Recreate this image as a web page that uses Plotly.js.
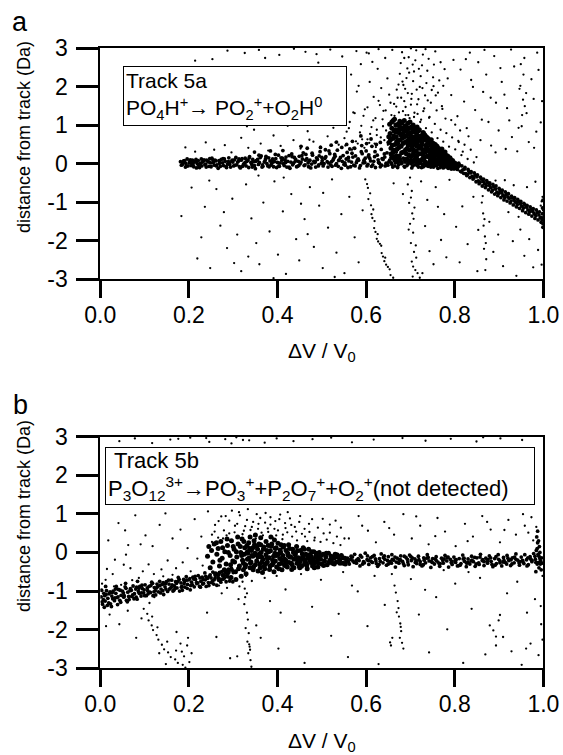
<!DOCTYPE html>
<html>
<head>
<meta charset="utf-8">
<script src="https://cdn.plot.ly/plotly-3.0.1.min.js"></script>
<style>html,body{margin:0;padding:0;background:#fff;}#chart{width:563px;height:755px;}</style>
</head>
<body>
<div id="chart"></div>
<script>
// ---------- tick labels ----------
const xTickVals = [0, 0.2, 0.4, 0.6, 0.8, 1.0];
const xTickText = ['0.0', '0.2', '0.4', '0.6', '0.8', '1.0'];
const yTickVals = [-3, -2, -1, 0, 1, 2, 3];
const yTickText = ['-3', '-2', '-1', '0', '1', '2', '3'];

// ---------- panel a data: [ΔV/V0, distance from track (Da)] ----------
const aBand = [
[0.181,0.05],[0.185,-0.02],[0.190,0.08],[0.193,0.01],[0.198,-0.06],[0.203,0.10],[0.206,0.03],[0.211,-0.08],[0.215,0.06],[0.219,0.00],
[0.224,-0.10],[0.228,0.12],[0.231,0.04],[0.236,-0.03],[0.240,0.09],[0.245,-0.07],[0.249,0.02],[0.252,0.14],[0.257,-0.04],[0.261,0.07],
[0.266,-0.12],[0.270,0.03],[0.273,0.11],[0.278,-0.05],[0.282,0.06],[0.287,-0.01],[0.290,0.15],[0.294,-0.09],[0.299,0.04],[0.303,0.10],
[0.308,-0.03],[0.312,0.07],[0.316,-0.11],[0.320,0.13],[0.325,0.01],[0.329,-0.06],[0.333,0.09],[0.337,0.18],[0.342,-0.02],[0.346,0.05],
[0.350,-0.13],[0.355,0.11],[0.359,0.03],[0.363,0.20],[0.367,-0.07],[0.372,0.08],[0.376,0.00],[0.380,0.15],[0.385,-0.04],[0.389,0.12],
[0.393,0.05],[0.398,-0.10],[0.402,0.22],[0.406,0.02],[0.410,0.09],[0.415,-0.05],[0.419,0.17],[0.423,0.06],[0.428,-0.12],[0.432,0.25],
[0.436,0.01],[0.441,0.11],[0.445,-0.07],[0.449,0.19],[0.453,0.04],[0.458,0.28],[0.462,-0.03],[0.466,0.13],[0.471,0.07],[0.475,-0.11],
[0.479,0.22],[0.484,0.03],[0.488,0.15],[0.492,-0.06],[0.496,0.31],[0.501,0.08],[0.505,0.00],[0.509,0.18],[0.514,-0.09],[0.518,0.26],
[0.522,0.05],[0.527,0.14],[0.531,-0.04],[0.535,0.35],[0.539,0.10],[0.544,-0.12],[0.548,0.21],[0.552,0.02],[0.557,0.29],[0.561,0.07],
[0.565,-0.08],[0.570,0.17],[0.574,0.40],[0.578,0.03],[0.582,0.12],[0.587,-0.05],[0.591,0.26],[0.595,0.09],[0.600,0.33],[0.604,-0.02],
[0.608,0.14],[0.613,0.45],[0.617,0.06],[0.621,-0.10],[0.625,0.22],[0.630,0.01],[0.634,0.37],[0.638,0.11],[0.643,-0.06],[0.647,0.28],
[0.651,0.04],[0.656,0.16],[0.660,-0.09],[0.664,0.08],[0.668,0.30],[0.673,-0.03],[0.677,0.12],[0.681,0.02],[0.686,-0.07],[0.690,0.10],
[0.694,-0.01],[0.699,0.06],[0.703,-0.11],[0.707,0.04],[0.711,0.09],[0.716,-0.05],[0.720,0.02],[0.724,0.07],[0.729,-0.08],[0.733,0.03],
[0.737,-0.04],[0.742,0.05],[0.746,-0.09],[0.750,0.01],[0.754,0.06],[0.759,-0.06],[0.763,0.00],[0.767,-0.10],[0.772,0.03],[0.776,-0.07],
[0.780,-0.02],[0.785,-0.12],[0.789,0.00],[0.793,-0.08],[0.797,-0.05],
[0.183,-0.04],[0.188,0.07],[0.192,-0.09],[0.196,0.12],[0.201,0.02],[0.205,-0.05],[0.208,0.09],[0.213,0.04],[0.217,-0.11],[0.221,0.08],
[0.226,0.01],[0.229,-0.06],[0.234,0.10],[0.238,-0.01],[0.243,0.05],[0.247,0.13],[0.250,-0.08],[0.255,0.03],[0.259,0.09],[0.263,-0.03],
[0.268,0.08],[0.271,-0.07],[0.276,0.02],[0.280,0.12],[0.285,-0.10],[0.289,0.05],[0.292,-0.02],[0.297,0.07],[0.301,-0.06],[0.306,0.16],
[0.310,0.04],[0.314,-0.08],[0.318,0.09],[0.323,-0.02],[0.327,0.14],[0.331,0.06],[0.335,-0.10],[0.340,0.03],[0.344,0.11],[0.348,-0.05],
[0.352,0.08],[0.357,-0.02],[0.361,0.16],[0.365,-0.09],[0.370,0.04],[0.374,0.19],[0.378,-0.06],[0.383,0.07],[0.387,0.01],[0.391,-0.08],
[0.396,0.13],[0.400,0.03],[0.404,-0.07],[0.408,0.15],[0.413,0.00],[0.417,0.10],[0.421,-0.09],[0.426,0.21],[0.430,0.04],[0.434,-0.03],
[0.438,0.16],[0.443,-0.08],[0.447,0.06],[0.451,0.00],[0.456,0.12],[0.460,-0.05],[0.464,0.24],[0.469,0.02],[0.473,0.09],[0.477,-0.01],
[0.482,0.06],[0.486,-0.09],[0.490,0.11],[0.494,0.20],[0.499,0.01],[0.503,-0.06],[0.507,0.14],[0.512,0.05],[0.516,0.33],[0.520,-0.03],
[0.525,0.09],[0.529,0.24],[0.533,0.00],[0.537,-0.07],[0.542,0.16],[0.546,0.06],[0.550,-0.02],[0.555,0.12],[0.559,-0.10],[0.563,0.38],
[0.567,0.04],[0.572,-0.04],[0.576,0.20],[0.580,0.09],[0.585,-0.11],[0.589,0.31],[0.593,0.02],[0.598,0.14],[0.602,-0.06],[0.606,0.23],
[0.610,0.07],[0.615,-0.03],[0.619,0.18],[0.623,0.50],[0.628,0.03],[0.632,-0.08],[0.636,0.13],[0.641,0.25],[0.645,0.01],[0.649,-0.04],
[0.653,0.09],[0.658,-0.02],[0.662,0.20],[0.666,0.03],[0.671,-0.10],[0.675,0.07],[0.679,0.00],[0.684,0.14],[0.688,0.04],[0.692,-0.05],
[0.697,0.08],[0.701,0.00],[0.705,-0.06],[0.709,0.12],[0.714,0.02],[0.718,-0.09],[0.722,0.05],[0.727,-0.02],[0.731,0.09],[0.735,-0.05],
[0.740,0.01],[0.744,0.08],[0.748,-0.03],[0.752,-0.09],[0.757,0.04],[0.761,-0.01],[0.765,0.07],[0.770,-0.05],[0.774,-0.11],[0.778,0.02],
[0.783,-0.06],[0.787,0.01],[0.791,-0.10],[0.795,-0.04],[0.799,-0.13],
[0.187,0.02],[0.194,-0.07],[0.202,0.06],[0.209,-0.02],[0.216,0.11],[0.222,-0.05],[0.233,0.07],[0.239,-0.09],[0.246,0.04],[0.254,0.10],
[0.262,-0.06],[0.269,0.01],[0.277,0.13],[0.284,-0.08],[0.291,0.03],[0.298,0.09],[0.304,-0.04],[0.313,0.12],[0.321,-0.07],[0.328,0.04],
[0.336,0.15],[0.343,-0.09],[0.351,0.06],[0.358,0.22],[0.366,-0.03],[0.373,0.13],[0.381,-0.08],[0.388,0.05],[0.395,0.24],[0.403,-0.06],
[0.411,0.14],[0.418,0.03],[0.426,-0.09],[0.433,0.18],[0.440,0.06],[0.448,-0.05],[0.455,0.21],[0.463,0.09],[0.470,-0.08],[0.478,0.27],
[0.485,0.05],[0.493,-0.03],[0.500,0.16],[0.508,0.36],[0.515,0.02],[0.523,-0.07],[0.530,0.19],[0.538,0.08],[0.545,0.42],[0.553,-0.04],
[0.560,0.16],[0.568,0.27],[0.575,-0.06],[0.583,0.09],[0.590,0.47],[0.597,0.03],[0.605,0.19],[0.612,-0.07],[0.620,0.31],[0.627,0.10],
[0.635,-0.04],[0.642,0.17],[0.650,0.55],[0.657,0.02],[0.665,-0.06],[0.672,0.14],[0.680,0.05],[0.687,-0.09],[0.695,0.03],[0.702,0.10],
[0.710,-0.03],[0.717,0.06],[0.725,-0.10],[0.732,0.01],[0.740,-0.07],[0.747,0.04],[0.755,-0.04],[0.762,-0.12],[0.770,0.01],[0.777,-0.09],
[0.784,-0.03],[0.792,-0.14],[0.348,0.30],[0.412,0.34],[0.467,0.40],[0.521,0.48],[0.569,0.58],[0.611,0.64],[0.588,0.72],[0.533,0.56],
[0.453,0.45],[0.384,0.33],[0.632,0.55],[0.556,0.50],[0.497,0.42],[0.601,0.52],
[0.802,-0.02],[0.806,-0.15],[0.809,0.01],[0.813,-0.20],[0.816,-0.06],[0.820,-0.25],[0.823,-0.10],[0.827,-0.31],[0.830,-0.15],[0.834,-0.36],
[0.837,-0.21],[0.841,-0.40],[0.844,-0.24],[0.848,-0.47],[0.851,-0.29],[0.855,-0.52],[0.858,-0.35],[0.862,-0.58],[0.865,-0.40],[0.869,-0.62],
[0.872,-0.44],[0.876,-0.68],[0.879,-0.50],[0.883,-0.73],[0.886,-0.54],[0.890,-0.79],[0.893,-0.58],[0.897,-0.83],[0.900,-0.64],[0.904,-0.88],
[0.907,-0.69],[0.911,-0.94],[0.914,-0.73],[0.918,-0.97],[0.921,-0.78],[0.925,-1.02],[0.928,-0.84],[0.932,-1.07],[0.935,-0.88],[0.939,-1.12],
[0.942,-0.93],[0.946,-1.16],[0.949,-0.98],[0.953,-1.22],[0.956,-1.03],[0.960,-1.27],[0.963,-1.08],[0.967,-1.31],[0.970,-1.12],[0.974,-1.36],
[0.977,-1.17],[0.981,-1.42],[0.984,-1.20],[0.988,-1.46],[0.991,-1.25],[0.995,-1.52],[0.998,-1.30],
[0.804,-0.10],[0.811,-0.04],[0.818,-0.16],[0.825,-0.26],[0.832,-0.20],[0.839,-0.33],[0.846,-0.30],[0.853,-0.45],[0.860,-0.40],[0.867,-0.52],
[0.874,-0.49],[0.881,-0.62],[0.888,-0.60],[0.895,-0.74],[0.902,-0.70],[0.909,-0.82],[0.916,-0.80],[0.923,-0.90],[0.930,-0.89],[0.937,-1.00],
[0.944,-0.98],[0.951,-1.10],[0.958,-1.07],[0.965,-1.20],[0.972,-1.18],[0.979,-1.30],[0.986,-1.27],[0.993,-1.40],[0.997,-1.45],[0.999,-1.55],
[0.808,-0.08],[0.815,-0.21],[0.822,-0.14],[0.829,-0.28],[0.836,-0.24],[0.843,-0.37],[0.850,-0.34],[0.857,-0.48],[0.864,-0.46],[0.871,-0.57],
[0.878,-0.56],[0.885,-0.69],[0.892,-0.66],[0.899,-0.77],[0.906,-0.76],[0.913,-0.88],[0.920,-0.86],[0.927,-0.97],[0.934,-0.95],[0.941,-1.06],
[0.948,-1.04],[0.955,-1.15],[0.962,-1.13],[0.969,-1.25],[0.976,-1.24],[0.983,-1.35],[0.990,-1.33],[0.996,-1.40],[0.999,-0.95],[0.998,-1.15],
[0.999,-1.65]
];

const aBlob = [
[0.652,0.55],[0.654,0.78],[0.656,0.40],[0.658,0.92],[0.660,0.65],[0.661,0.30],[0.663,0.85],[0.665,0.50],[0.667,1.00],[0.668,0.70],
[0.670,0.38],[0.672,0.88],[0.673,0.60],[0.675,0.20],[0.676,0.95],[0.678,0.75],[0.679,0.45],[0.681,1.05],[0.682,0.66],[0.684,0.30],
[0.685,0.85],[0.687,0.55],[0.688,0.10],[0.690,0.98],[0.691,0.72],[0.693,0.40],[0.694,0.90],[0.696,0.62],[0.697,0.22],[0.699,1.08],
[0.700,0.80],[0.702,0.50],[0.703,0.05],[0.705,0.88],[0.706,0.68],[0.708,0.35],[0.709,0.93],[0.711,0.58],[0.712,0.15],[0.714,0.78],
[0.715,0.45],[0.717,0.85],[0.718,0.25],[0.720,0.65],[0.721,0.02],[0.723,0.72],[0.724,0.40],[0.726,0.55],[0.727,0.12],[0.729,0.80],
[0.730,0.32],[0.732,0.62],[0.733,0.05],[0.735,0.48],[0.736,0.70],[0.738,0.20],[0.739,0.55],[0.741,0.35],[0.742,0.00],[0.744,0.60],
[0.745,0.25],[0.747,0.45],[0.748,0.08],[0.750,0.52],[0.751,0.30],[0.753,0.15],[0.754,0.42],[0.756,0.02],[0.757,0.35],[0.759,0.22],
[0.760,0.45],[0.762,0.10],[0.763,0.30],[0.765,0.00],[0.766,0.38],[0.768,0.18],[0.769,0.05],[0.771,0.28],[0.772,0.12],[0.774,-0.03],
[0.775,0.22],[0.777,0.08],[0.778,0.30],[0.780,-0.05],[0.781,0.15],[0.783,0.05],[0.784,0.20],[0.786,-0.08],[0.787,0.10],[0.789,0.00],
[0.790,0.12],[0.792,-0.10],[0.794,0.05],[0.796,-0.04],[0.798,-0.12],[0.800,0.02],[0.803,-0.08],[0.806,-0.02],
[0.691,0.25],[0.695,0.48],[0.698,0.35],[0.701,0.18],[0.704,0.42],[0.707,0.28],[0.710,0.50],[0.713,0.32],[0.716,0.10],[0.719,0.40],
[0.722,0.26],[0.725,0.48],[0.728,0.36],[0.731,0.15],[0.734,0.30],[0.737,0.42],[0.740,0.18],[0.743,0.33],[0.746,0.12],[0.749,0.38],
[0.752,0.22],[0.755,0.28],[0.758,0.10],[0.761,0.25],[0.764,0.15],[0.767,0.24],[0.770,0.05],[0.773,0.16],[0.776,0.10],[0.779,0.02],
[0.662,0.72],[0.666,0.88],[0.671,0.52],[0.674,0.80],[0.677,0.62],[0.680,0.92],[0.683,0.78],[0.686,0.70],[0.689,0.84],[0.692,0.58],
[0.695,0.78],[0.698,0.65],[0.701,0.72],[0.704,0.60],[0.707,0.82],[0.710,0.70],[0.713,0.64],[0.716,0.58],[0.719,0.70],[0.722,0.60],
[0.658,1.08],[0.664,1.15],[0.672,1.02],[0.668,0.20],[0.686,1.12],
[0.651,0.70],[0.655,0.62],[0.659,0.48],[0.663,0.35],[0.667,0.82],[0.669,0.58],[0.674,0.42],[0.677,0.90],[0.680,0.28],[0.683,0.52],
[0.687,0.95],[0.689,0.36],[0.692,0.12],[0.696,0.92],[0.699,0.55],[0.702,0.95],[0.705,0.22],[0.708,0.60],[0.711,0.84],[0.714,0.20],
[0.717,0.48],[0.720,0.88],[0.723,0.08],[0.726,0.68],[0.729,0.22],[0.732,0.75],[0.735,0.38],[0.738,0.60],[0.741,0.52],[0.744,0.15],
[0.747,0.62],[0.750,0.40],[0.753,0.05],[0.756,0.50],[0.759,0.32],[0.762,0.40],[0.765,0.20],[0.768,0.30],[0.771,0.38],[0.774,0.25],
[0.777,0.18],[0.780,0.22],[0.783,0.12],[0.786,0.10],[0.789,0.15],[0.792,0.02],[0.795,0.08],[0.660,0.15],[0.665,0.10],[0.671,0.05],
[0.656,0.25],[0.653,1.02],[0.661,1.12],[0.676,1.10],[0.694,1.05],[0.706,1.00],[0.715,0.95],[0.728,0.80],[0.740,0.65],[0.752,0.52]
];

const aScatter = [
[0.192,0.42],[0.214,0.31],[0.238,0.55],[0.257,0.36],[0.281,0.48],[0.296,0.29],[0.318,0.67],[0.334,0.41],[0.347,0.88],[0.362,0.52],
[0.379,0.34],[0.391,0.73],[0.407,0.46],[0.423,0.98],[0.436,0.61],[0.452,0.39],[0.468,0.84],[0.481,0.57],[0.497,0.44],[0.513,0.71],
[0.526,0.93],[0.538,0.49],[0.551,0.66],[0.563,1.08],[0.577,0.58],[0.586,0.81],[0.594,1.24],[0.603,0.63],[0.612,0.95],[0.624,0.74],
[0.637,1.15],[0.645,0.86],[0.331,0.97],[0.443,1.12],[0.505,1.02],[0.472,0.62],[0.531,0.55],[0.556,0.83],[0.571,0.41],[0.619,0.52],
[0.214,2.67],[0.253,2.71],[0.287,2.93],[0.326,2.87],[0.358,2.95],[0.404,2.82],[0.437,2.98],[0.463,2.90],[0.488,2.84],[0.519,2.96],
[0.546,2.78],[0.578,2.92],[0.606,2.86],[0.628,2.97],[0.372,2.74],[0.492,2.62],
[0.553,1.62],[0.566,2.31],[0.579,1.87],[0.588,2.58],[0.597,1.41],[0.608,2.12],[0.617,1.73],[0.626,2.46],[0.621,1.18],[0.634,1.96],
[0.643,2.74],[0.639,1.37],[0.601,2.88],[0.648,2.21],[0.655,1.58],[0.583,2.02],[0.614,2.64],[0.631,1.52],[0.659,2.95],[0.571,1.33],
[0.664,1.24],[0.668,1.48],[0.671,1.71],[0.673,2.05],[0.676,2.33],[0.678,2.61],[0.681,2.89],[0.683,1.36],[0.686,1.62],[0.688,1.94],
[0.691,2.22],[0.693,2.47],[0.696,2.76],[0.698,1.18],[0.701,1.53],[0.703,1.81],[0.706,2.14],[0.708,2.39],[0.711,2.68],[0.713,2.94],
[0.716,1.29],[0.718,1.67],[0.721,1.99],[0.723,2.27],[0.726,2.55],[0.728,2.83],[0.731,1.43],[0.733,1.77],[0.736,2.09],[0.738,2.41],
[0.741,2.72],[0.743,1.21],[0.746,1.58],[0.748,1.91],[0.751,2.24],[0.753,2.57],[0.756,2.91],[0.759,1.38],[0.762,1.84],[0.765,2.16],
[0.768,2.63],[0.771,1.49],[0.774,2.02],[0.777,2.45],[0.779,1.17],[0.682,2.13],[0.694,1.83],[0.705,2.57],[0.714,1.92],[0.724,1.14],
[0.734,2.97],[0.697,2.36],[0.709,1.32],[0.719,2.46],[0.686,2.74],[0.727,1.96],[0.739,1.64],[0.752,2.01],[0.701,2.99],[0.689,1.26],
[0.784,2.21],[0.792,1.78],[0.797,2.69],[0.806,1.23],[0.813,2.44],[0.821,1.61],[0.827,0.92],[0.834,2.88],[0.841,1.99],[0.846,1.39],
[0.853,2.63],[0.858,0.61],[0.864,1.86],[0.871,2.31],[0.876,1.08],[0.882,0.47],[0.889,2.79],[0.893,1.58],[0.899,0.86],[0.906,2.12],
[0.912,1.79],[0.918,1.44],[0.923,1.12],[0.929,0.69],[0.934,2.52],[0.941,0.32],[0.946,1.94],[0.951,0.97],[0.957,2.74],[0.962,1.31],
[0.967,0.56],[0.973,2.19],[0.978,1.68],[0.984,0.83],[0.989,2.43],[0.994,1.07],[0.818,0.31],[0.849,0.17],[0.809,0.56],[0.801,1.01],
[0.867,2.95],[0.927,2.96],[0.954,1.66],[0.948,2.02],[0.952,1.26],[0.944,0.93],[0.958,1.49],[0.955,2.31],[0.949,2.58],[0.961,1.83],
[0.881,1.71],[0.903,2.48],[0.837,2.17],[0.861,1.14],[0.915,0.38],[0.986,2.88],[0.997,1.62],[0.979,0.41],[0.825,2.71],[0.892,0.29],
[0.553,0.47],[0.561,0.92],[0.568,0.36],[0.574,1.31],[0.581,0.52],[0.589,0.98],[0.596,0.41],[0.603,1.46],[0.609,0.77],[0.616,1.12],
[0.622,0.43],[0.628,1.63],[0.633,0.68],[0.638,0.97],[0.644,1.38],[0.649,0.49],[0.652,1.79],[0.657,1.26],[0.663,1.55],[0.669,1.92],
[0.674,1.33],[0.679,1.71],[0.684,2.04],[0.689,1.47],[0.695,1.26],[0.702,1.68],[0.708,1.21],[0.715,1.54],[0.722,1.08],[0.729,1.36],
[0.735,0.92],[0.742,1.19],[0.748,0.81],[0.755,1.03],[0.761,0.66],[0.768,0.88],[0.774,0.57],[0.781,0.79],[0.787,0.44],[0.794,0.68],
[0.801,0.37],[0.808,0.59],[0.815,0.22],[0.822,0.49],[0.829,0.12],[0.836,0.36],[0.843,0.03],[0.792,1.13],[0.772,1.42],[0.757,1.77],
[0.812,0.86],[0.831,0.71],[0.591,0.63],[0.607,0.54],[0.624,0.88],[0.641,0.61],
[0.183,-1.36],[0.206,-0.62],[0.219,-2.46],[0.236,-1.12],[0.248,-2.71],[0.262,-0.66],[0.271,-1.61],[0.286,-2.19],[0.298,-0.91],[0.309,-1.84],
[0.318,-2.79],[0.329,-0.54],[0.341,-1.42],[0.352,-2.06],[0.359,-2.61],[0.368,-1.01],[0.382,-1.76],[0.393,-0.46],[0.401,-2.36],[0.412,-1.24],
[0.419,-2.86],[0.431,-0.79],[0.442,-1.96],[0.449,-2.51],[0.461,-1.44],[0.473,-0.61],[0.482,-2.16],[0.494,-1.09],[0.502,-2.71],[0.514,-1.66],
[0.523,-0.41],[0.533,-2.31],[0.544,-1.31],[0.551,-2.84],[0.562,-0.86],[0.574,-1.91],[0.583,-2.56],[0.592,-1.21],[0.334,-2.41],[0.279,-1.26],
[0.228,-1.91],[0.453,-1.04],[0.503,-0.76],[0.414,-0.36],[0.357,-0.31],[0.246,-0.44],[0.302,-2.58],[0.391,-2.97],[0.468,-1.83],[0.529,-2.94],
[0.598,-0.41],[0.604,-0.63],[0.605,-0.92],[0.611,-1.08],[0.612,-1.31],[0.619,-1.49],[0.618,-1.67],[0.626,-1.83],[0.627,-2.02],[0.634,-2.13],
[0.635,-2.32],[0.643,-2.44],[0.645,-2.62],[0.653,-2.74],[0.655,-2.89],[0.609,-0.77],[0.616,-1.19],[0.621,-1.77],[0.631,-2.08],[0.638,-2.41],
[0.649,-2.68],[0.661,-2.96],[0.602,-0.53],[0.614,-1.41],[0.624,-1.95],[0.641,-2.53],
[0.699,-0.36],[0.703,-0.71],[0.697,-1.02],[0.704,-1.29],[0.699,-1.56],[0.706,-1.79],[0.701,-2.06],[0.708,-2.29],[0.703,-2.54],[0.711,-2.76],
[0.705,-2.93],[0.709,-1.14],[0.696,-1.71],[0.713,-2.44],[0.694,-0.54],[0.716,-2.84],[0.721,-2.96],[0.701,-0.88],[0.707,-1.43],[0.712,-2.12],
[0.706,-2.67],
[0.662,-0.51],[0.683,-0.79],[0.724,-0.46],[0.738,-0.94],[0.757,-0.61],[0.776,-1.31],[0.733,-1.62],[0.769,-1.98],[0.752,-2.61],[0.788,-0.42],
[0.743,-2.27],[0.762,-1.12],[0.781,-2.43],[0.727,-2.84],
[0.861,-1.01],[0.864,-1.29],[0.865,-1.61],[0.868,-1.89],[0.866,-2.21],[0.871,-2.48],[0.869,-2.76],[0.863,-0.84],[0.867,-1.44],[0.870,-2.06],
[0.817,-1.11],[0.829,-2.09],[0.842,-0.86],[0.851,-2.79],[0.878,-1.51],[0.887,-2.29],[0.898,-1.84],[0.909,-2.66],[0.921,-1.26],[0.931,-2.01],
[0.939,-2.91],[0.948,-1.71],[0.957,-2.39],[0.968,-1.96],[0.977,-2.69],[0.988,-2.24],[0.994,-1.09],[0.998,-0.86],[0.811,-2.56],[0.803,-1.64],
[0.963,-0.61],[0.933,-0.56],[0.913,-0.43],[0.982,-0.47],[0.996,-0.98],[0.999,-1.21],[0.996,-2.62],[0.853,-1.72],[0.892,-0.44],[0.944,-1.38]
];

// ---------- panel b data ----------
const bBand = [
[0.002,-1.15],[0.005,-1.34],[0.008,-1.06],[0.011,-1.26],[0.014,-0.99],[0.017,-1.19],[0.020,-1.07],[0.023,-1.33],[0.026,-1.13],[0.029,-1.00],
[0.032,-1.25],[0.035,-1.06],[0.038,-1.17],[0.041,-0.96],[0.044,-1.24],[0.047,-1.11],[0.050,-1.00],[0.053,-1.16],[0.056,-0.89],[0.059,-1.24],
[0.062,-1.03],[0.065,-1.22],[0.068,-0.94],[0.071,-1.14],[0.074,-0.87],[0.077,-1.07],[0.080,-0.95],[0.083,-1.21],[0.086,-1.01],[0.089,-0.88],
[0.092,-1.13],[0.095,-0.94],[0.098,-1.05],[0.101,-0.84],[0.104,-1.12],[0.107,-0.99],[0.110,-0.88],[0.113,-1.04],[0.116,-0.77],[0.119,-1.12],
[0.122,-0.91],[0.125,-1.10],[0.128,-0.82],[0.131,-1.02],[0.134,-0.75],[0.137,-0.95],[0.140,-0.83],[0.143,-1.09],[0.146,-0.89],[0.149,-0.76],
[0.152,-1.01],[0.155,-0.82],[0.158,-0.93],[0.161,-0.72],[0.164,-1.00],[0.167,-0.87],[0.170,-0.76],[0.173,-0.92],[0.176,-0.65],[0.179,-1.00],
[0.182,-0.79],[0.185,-0.98],[0.188,-0.70],[0.191,-0.90],[0.194,-0.63],[0.197,-0.83],[0.200,-0.71],[0.203,-0.97],[0.206,-0.77],[0.209,-0.64],
[0.212,-0.89],[0.215,-0.70],[0.218,-0.81],[0.221,-0.60],[0.224,-0.88],[0.227,-0.75],[0.230,-0.64],[0.233,-0.80],[0.236,-0.53],[0.239,-0.88],
[0.242,-0.67],[0.245,-0.86],[0.248,-0.58],[0.251,-0.78],[0.254,-0.51],[0.257,-0.71],[0.260,-0.59],[0.263,-0.85],[0.266,-0.65],[0.269,-0.52],
[0.272,-0.77],[0.275,-0.58],[0.278,-0.69],[0.281,-0.48],[0.284,-0.76],[0.287,-0.63],[0.290,-0.52],[0.293,-0.68],[0.296,-0.41],[0.299,-0.76],
[0.004,-1.28],[0.010,-1.12],[0.016,-1.37],[0.022,-1.02],[0.028,-1.20],[0.034,-0.95],[0.040,-1.15],[0.046,-1.29],[0.052,-1.05],[0.058,-0.93],
[0.064,-1.14],[0.070,-0.98],[0.076,-1.20],[0.082,-0.90],[0.088,-1.06],[0.094,-0.85],[0.100,-1.12],[0.106,-0.92],[0.112,-1.03],[0.118,-0.80],
[0.124,-0.99],[0.130,-0.88],[0.136,-1.05],[0.142,-0.78],[0.148,-0.95],[0.154,-0.72],[0.160,-0.90],[0.166,-0.98],[0.172,-0.80],[0.178,-0.70],
[0.184,-0.88],[0.190,-0.76],[0.196,-0.93],[0.202,-0.68],[0.208,-0.84],[0.214,-0.62],[0.220,-0.79],[0.226,-0.90],[0.232,-0.70],[0.238,-0.62],
[0.244,-0.78],[0.250,-0.66],[0.256,-0.82],[0.262,-0.56],[0.268,-0.72],[0.274,-0.50],[0.280,-0.66],[0.286,-0.58],[0.292,-0.74],[0.298,-0.46],
[0.007,-1.22],[0.013,-1.09],[0.019,-1.31],[0.027,-1.04],[0.033,-1.18],[0.039,-1.35],[0.045,-0.98],[0.054,-1.12],[0.061,-1.28],[0.067,-0.99],
[0.073,-1.10],[0.081,-1.16],[0.087,-0.93],[0.093,-1.05],[0.099,-0.97],[0.108,-1.07],[0.114,-0.86],[0.121,-1.02],[0.127,-0.92],[0.135,-0.85],
[0.141,-0.99],[0.147,-0.81],[0.156,-0.95],[0.162,-0.84],[0.169,-0.93],[0.175,-0.75],[0.183,-0.90],[0.189,-0.81],[0.195,-0.72],[0.204,-0.86],
[0.211,-0.69],[0.217,-0.78],[0.225,-0.66],[0.231,-0.82],[0.237,-0.71],[0.246,-0.62],[0.253,-0.74],[0.259,-0.66],[0.267,-0.58],[0.273,-0.70],
[0.279,-0.61],[0.288,-0.55],[0.294,-0.64],[0.300,-0.52],[0.003,-0.98],[0.009,-1.42],[0.025,-1.40],[0.036,-0.88],[0.057,-0.80],[0.084,-0.75],
[0.012,-0.88],
[0.558,-0.15],[0.562,-0.30],[0.566,-0.10],[0.570,-0.22],[0.574,-0.05],[0.578,-0.28],[0.582,-0.16],[0.586,-0.35],[0.590,-0.12],[0.594,-0.24],
[0.598,-0.02],[0.602,-0.19],[0.606,-0.31],[0.610,-0.14],[0.614,-0.26],[0.618,-0.08],[0.622,-0.22],[0.626,-0.36],[0.630,-0.16],[0.634,-0.04],
[0.638,-0.27],[0.642,-0.18],[0.646,-0.33],[0.650,-0.11],[0.654,-0.24],[0.658,-0.06],[0.662,-0.20],[0.666,-0.38],[0.670,-0.15],[0.674,-0.28],
[0.678,-0.09],[0.682,-0.23],[0.686,-0.34],[0.690,-0.13],[0.694,-0.25],[0.698,-0.07],[0.702,-0.21],[0.706,-0.37],[0.710,-0.17],[0.714,-0.29],
[0.718,-0.10],[0.722,-0.24],[0.726,-0.35],[0.730,-0.14],[0.734,-0.27],[0.738,-0.06],[0.742,-0.22],[0.746,-0.39],[0.750,-0.16],[0.754,-0.30],
[0.758,-0.11],[0.762,-0.25],[0.766,-0.36],[0.770,-0.15],[0.774,-0.28],[0.778,-0.08],[0.782,-0.22],[0.786,-0.38],[0.790,-0.18],[0.794,-0.31],
[0.798,-0.12],[0.802,-0.26],[0.806,-0.35],[0.810,-0.16],[0.814,-0.29],[0.818,-0.07],[0.822,-0.23],[0.826,-0.37],[0.830,-0.17],[0.834,-0.30],
[0.838,-0.10],[0.842,-0.24],[0.846,-0.36],[0.850,-0.14],[0.854,-0.27],[0.858,-0.05],[0.862,-0.21],[0.866,-0.34],[0.870,-0.15],[0.874,-0.28],
[0.878,-0.09],[0.882,-0.23],[0.886,-0.37],[0.890,-0.16],[0.894,-0.29],[0.898,-0.06],[0.902,-0.22],[0.906,-0.35],[0.910,-0.13],[0.914,-0.26],
[0.918,-0.08],[0.922,-0.21],[0.926,-0.34],[0.930,-0.14],[0.934,-0.27],[0.938,-0.04],[0.942,-0.20],[0.946,-0.33],[0.950,-0.12],[0.954,-0.25],
[0.958,-0.06],[0.962,-0.19],[0.966,-0.32],[0.970,-0.11],[0.974,-0.24],[0.978,-0.03],[0.982,-0.18],[0.986,-0.30],[0.990,-0.10],[0.994,-0.22],
[0.560,-0.24],[0.569,-0.12],[0.578,-0.20],[0.587,-0.08],[0.596,-0.27],[0.605,-0.21],[0.614,-0.11],[0.623,-0.29],[0.632,-0.23],[0.641,-0.09],
[0.650,-0.30],[0.659,-0.18],[0.668,-0.25],[0.677,-0.19],[0.686,-0.10],[0.695,-0.32],[0.704,-0.14],[0.713,-0.22],[0.722,-0.31],[0.731,-0.20],
[0.740,-0.13],[0.749,-0.26],[0.758,-0.21],[0.767,-0.29],[0.776,-0.17],[0.785,-0.12],[0.794,-0.24],[0.803,-0.19],[0.812,-0.33],[0.821,-0.15],
[0.830,-0.25],[0.839,-0.20],[0.848,-0.30],[0.857,-0.12],[0.866,-0.24],[0.875,-0.19],[0.884,-0.31],[0.893,-0.11],[0.902,-0.27],[0.911,-0.21],
[0.920,-0.15],[0.929,-0.30],[0.938,-0.18],[0.947,-0.24],[0.956,-0.29],[0.965,-0.14],[0.974,-0.20],[0.983,-0.26],[0.992,-0.16],[0.997,-0.28],
[0.565,-0.18],[0.573,-0.26],[0.584,-0.21],[0.592,-0.30],[0.603,-0.09],[0.611,-0.23],[0.621,-0.17],[0.629,-0.31],[0.639,-0.13],[0.648,-0.21],
[0.657,-0.28],[0.665,-0.12],[0.675,-0.20],[0.684,-0.29],[0.693,-0.18],[0.701,-0.11],[0.711,-0.26],[0.719,-0.19],[0.729,-0.32],[0.737,-0.15],
[0.747,-0.23],[0.756,-0.17],[0.765,-0.30],[0.773,-0.21],[0.783,-0.13],[0.792,-0.26],[0.801,-0.20],[0.809,-0.34],[0.819,-0.17],[0.827,-0.28],
[0.837,-0.22],[0.845,-0.13],[0.855,-0.31],[0.863,-0.19],[0.873,-0.23],[0.881,-0.14],[0.891,-0.33],[0.899,-0.18],[0.909,-0.25],[0.917,-0.30],
[0.927,-0.19],[0.935,-0.12],[0.945,-0.27],[0.953,-0.21],[0.963,-0.35],[0.971,-0.17],[0.981,-0.10],[0.989,-0.26],[0.996,-0.14],[0.984,0.05],
[0.983,-0.50],[0.987,0.55],
[0.985,0.40],[0.987,0.25],[0.986,0.10],[0.988,-0.05],[0.989,0.30],[0.990,-0.40],[0.991,0.15],[0.993,-0.30],[0.992,0.00],[0.995,-0.45]
];

const bBlob = [
[0.242,-0.10],[0.245,0.15],[0.248,-0.40],[0.251,0.05],[0.254,-0.25],[0.257,0.22],[0.260,-0.55],[0.263,-0.05],[0.266,0.10],[0.269,-0.35],
[0.272,0.28],[0.275,-0.15],[0.278,-0.60],[0.281,0.02],[0.284,-0.30],[0.287,0.18],[0.290,-0.45],[0.293,-0.08],[0.296,0.30],[0.299,-0.22],
[0.302,0.08],[0.305,-0.50],[0.308,-0.12],[0.311,0.22],[0.314,-0.35],[0.317,0.00],[0.320,0.35],[0.323,-0.28],[0.326,0.12],[0.329,-0.55],
[0.332,-0.18],[0.335,0.25],[0.338,-0.40],[0.341,0.05],[0.344,-0.10],[0.347,0.30],[0.350,-0.32],[0.353,0.15],[0.356,-0.48],[0.359,-0.05],
[0.362,0.20],[0.365,-0.25],[0.368,0.08],[0.371,-0.42],[0.374,0.28],[0.377,-0.15],[0.380,0.02],[0.383,-0.35],[0.386,0.16],[0.389,-0.20],
[0.392,-0.50],[0.395,0.10],[0.398,-0.08],[0.401,0.24],[0.404,-0.30],[0.407,0.00],[0.410,-0.45],[0.413,0.14],[0.416,-0.18],[0.419,0.05],
[0.422,-0.38],[0.425,0.20],[0.428,-0.12],[0.431,-0.28],[0.434,0.08],[0.437,-0.40],[0.440,-0.02],[0.443,0.15],[0.446,-0.22],[0.449,-0.35],
[0.452,0.05],[0.455,-0.15],[0.458,0.12],[0.461,-0.30],[0.464,-0.05],[0.467,-0.42],[0.470,0.08],[0.473,-0.20],[0.476,-0.10],[0.479,-0.35],
[0.482,0.02],[0.485,-0.25],[0.488,-0.08],[0.491,-0.38],[0.494,0.00],[0.497,-0.18],[0.500,-0.30],[0.503,-0.05],[0.506,-0.22],[0.509,-0.12],
[0.512,-0.32],[0.515,-0.02],[0.518,-0.20],[0.521,-0.10],[0.524,-0.28],[0.527,-0.15],[0.530,-0.05],[0.533,-0.25],[0.536,-0.12],[0.540,-0.20],
[0.544,-0.08],[0.548,-0.28],[0.552,-0.15],[0.556,-0.22],
[0.321,-0.20],[0.325,-0.05],[0.328,-0.32],[0.332,0.02],[0.335,-0.15],[0.339,-0.28],[0.342,-0.08],[0.346,-0.38],[0.349,-0.02],[0.353,-0.22],
[0.356,-0.12],[0.360,-0.30],[0.363,0.00],[0.367,-0.18],[0.370,-0.35],[0.374,-0.06],[0.377,-0.25],[0.381,-0.14],[0.384,0.04],[0.388,-0.32],
[0.391,-0.10],[0.395,-0.22],[0.398,-0.38],[0.402,-0.04],[0.405,-0.16],[0.409,-0.28],[0.412,-0.08],[0.416,-0.34],[0.419,-0.20],[0.423,-0.02],
[0.426,-0.26],[0.430,-0.12],[0.433,-0.32],[0.437,-0.18],[0.440,-0.06],[0.444,-0.28],[0.447,-0.14],[0.451,-0.24],[0.454,-0.36],[0.458,-0.10],
[0.461,-0.20],[0.465,-0.28],[0.468,-0.14],[0.472,-0.06],[0.475,-0.26],[0.479,-0.18],[0.482,-0.30],[0.486,-0.12],[0.489,-0.22],[0.493,-0.15],
[0.323,-0.45],[0.331,0.18],[0.344,0.12],[0.358,0.22],[0.366,-0.52],[0.379,0.18],[0.393,0.32],[0.408,0.20],[0.385,0.40],[0.362,0.38],
[0.350,0.45],[0.338,0.40],[0.310,0.40],[0.300,0.15],[0.286,0.35],[0.318,-0.62],[0.306,-0.70],[0.295,-0.65],[0.280,-0.45],[0.268,-0.70],
[0.303,-0.25],[0.307,0.02],[0.312,-0.42],[0.316,0.15],[0.319,-0.08],[0.324,0.28],[0.327,-0.38],[0.333,-0.02],[0.337,0.10],[0.340,-0.25],
[0.345,-0.45],[0.348,0.20],[0.352,-0.06],[0.355,0.08],[0.361,-0.40],[0.364,-0.12],[0.369,0.14],[0.373,-0.30],[0.376,0.05],[0.382,-0.44],
[0.387,0.22],[0.390,-0.28],[0.394,-0.02],[0.397,0.12],[0.403,-0.42],[0.406,0.06],[0.411,-0.20],[0.415,0.18],[0.418,-0.30],[0.424,-0.08],
[0.427,0.10],[0.432,-0.44],[0.436,0.00],[0.441,-0.16],[0.445,0.04],[0.450,-0.40],[0.456,-0.04],[0.460,0.08],[0.466,-0.34],[0.471,-0.16],
[0.477,0.02],[0.483,-0.40],[0.487,-0.02],[0.492,-0.28],[0.498,-0.08],[0.504,-0.34],[0.510,-0.02],[0.516,-0.26],[0.522,-0.18],[0.528,-0.30],
[0.534,-0.06],[0.541,-0.28],[0.547,-0.14],[0.553,-0.30],[0.262,0.25],[0.270,-0.20],[0.276,0.12],[0.283,-0.50],[0.289,0.00],[0.294,-0.32]
];

const bScatter = [
[0.043,2.88],[0.078,2.95],[0.117,2.83],[0.158,2.92],[0.203,2.97],[0.246,2.86],[0.282,2.93],[0.307,2.98],[0.336,2.90],[0.371,2.84],
[0.398,2.95],[0.436,2.88],[0.479,2.93],[0.521,2.97],[0.568,2.85],[0.617,2.92],[0.682,2.96],[0.734,2.89],[0.791,2.94],[0.849,2.87],
[0.903,2.95],[0.952,2.91],[0.864,2.98],[0.296,2.82],[0.239,2.96],[0.176,2.94],[0.322,2.91],
[0.018,0.31],[0.041,0.76],[0.063,0.19],[0.079,0.96],[0.102,0.44],[0.118,0.16],[0.134,0.71],[0.147,1.01],[0.163,0.36],[0.181,0.59],
[0.197,0.11],[0.213,0.86],[0.228,0.41],[0.243,1.06],[0.258,0.54],[0.267,0.81],[0.283,0.94],[0.291,0.49],[0.304,0.69],[0.313,1.04],
[0.324,0.56],[0.331,0.84],[0.342,0.66],[0.353,0.99],[0.364,0.51],[0.372,0.77],[0.384,0.91],[0.393,0.61],[0.404,0.86],[0.412,0.46],
[0.423,1.04],[0.431,0.71],[0.442,0.54],[0.451,0.94],[0.462,0.41],[0.471,0.74],[0.483,0.31],[0.502,0.87],[0.518,0.51],[0.543,0.64],
[0.561,0.36],[0.583,0.94],[0.604,0.56],[0.622,0.26],[0.641,0.79],[0.663,0.46],[0.684,0.99],[0.703,0.36],[0.722,0.69],[0.741,0.21],
[0.761,0.89],[0.778,0.54],[0.802,0.16],[0.823,0.74],[0.841,0.41],[0.862,0.94],[0.881,0.59],[0.902,0.26],[0.921,0.84],[0.938,0.46],
[0.958,0.69],[0.977,0.31],[0.973,0.91],[0.966,0.51],[0.954,0.99],[0.347,0.43],[0.378,0.62],[0.318,0.37],[0.357,0.74],[0.397,0.44],
[0.418,0.63],[0.277,0.36],[0.252,0.27],[0.056,0.57],[0.091,0.21],[0.713,0.93],[0.756,0.42],[0.829,0.29],[0.873,0.79],[0.912,0.58],
[0.984,0.66],[0.531,0.82],[0.591,0.69],[0.652,0.63],
[0.252,0.46],[0.259,0.71],[0.266,0.38],[0.273,0.93],[0.279,0.57],[0.285,0.44],[0.291,0.82],[0.297,1.08],[0.303,0.52],[0.309,0.74],
[0.315,0.96],[0.321,0.47],[0.327,0.68],[0.333,1.12],[0.339,0.58],[0.345,0.79],[0.351,0.36],[0.356,0.61],[0.361,0.89],[0.367,0.44],
[0.373,1.02],[0.379,0.53],[0.384,0.72],[0.389,0.38],[0.395,0.81],[0.401,0.57],[0.406,0.98],[0.411,0.34],[0.417,0.76],[0.422,0.52],
[0.428,0.88],[0.433,0.41],[0.439,0.66],[0.444,0.31],[0.449,0.79],[0.455,0.48],[0.461,0.61],[0.467,0.29],[0.472,0.53],[0.478,0.86],
[0.484,0.38],[0.491,0.64],[0.497,0.27],[0.504,0.49],[0.511,0.33],[0.518,0.72],[0.526,0.24],[0.534,0.41],[0.542,0.19],[0.551,0.36],
[0.268,-0.86],[0.286,-0.92],[0.314,-0.88],[0.342,-0.74],[0.371,-0.66],[0.398,-0.61],
[0.012,-0.71],[0.028,-0.56],[0.047,-0.84],[0.068,-0.41],[0.087,-0.66],[0.109,-0.31],[0.121,-0.56],[0.138,-0.44],[0.152,-0.21],[0.171,-0.41],
[0.186,-0.26],[0.204,-0.49],[0.219,-0.16],[0.231,-0.34],[0.021,-1.61],[0.043,-1.86],[0.062,-1.51],[0.081,-2.21],[0.093,-1.71],[0.033,-0.19],
[0.004,-0.81],[0.058,-0.06],[0.013,-1.91],[0.072,-0.72],[0.031,-0.88],[0.096,-0.49],[0.142,-0.62],[0.163,-0.58],[0.015,-0.43],[0.053,-0.32],
[0.098,-1.46],[0.106,-1.59],[0.109,-1.76],[0.116,-1.89],[0.119,-2.01],[0.127,-2.14],[0.131,-2.26],[0.139,-2.39],[0.144,-2.51],[0.153,-2.59],
[0.159,-2.71],[0.169,-2.77],[0.175,-2.86],[0.186,-2.91],[0.192,-2.98],[0.117,-1.66],[0.129,-1.94],[0.151,-2.31],[0.171,-2.54],[0.189,-2.69],
[0.196,-2.41],[0.181,-2.36],[0.201,-2.84],[0.206,-2.61],[0.122,-1.16],[0.133,-2.61],[0.148,-2.89],[0.172,-2.06],[0.198,-2.21],[0.184,-2.57],
[0.111,-1.31],
[0.321,-0.76],[0.326,-0.94],[0.327,-1.16],[0.325,-1.34],[0.331,-1.56],[0.333,-1.74],[0.328,-1.96],[0.335,-2.09],[0.332,-2.31],[0.337,-2.44],
[0.334,-2.61],[0.339,-2.79],[0.341,-2.96],[0.312,-1.21],[0.309,-2.69],[0.352,-1.89],[0.336,-2.38],[0.329,-0.61],[0.331,-1.06],[0.338,-2.52],
[0.664,-0.86],[0.667,-1.04],[0.671,-1.26],[0.673,-1.44],[0.674,-1.66],[0.677,-1.84],[0.679,-2.04],[0.676,-2.21],[0.681,-2.34],[0.684,-2.49],
[0.659,-2.21],[0.656,-2.41],[0.669,-1.55],[0.678,-1.93],[0.654,-2.33],
[0.241,-1.56],[0.262,-2.19],[0.274,-1.06],[0.293,-2.74],[0.383,-1.26],[0.402,-2.49],[0.418,-0.96],[0.439,-1.79],[0.461,-2.86],[0.478,-1.41],
[0.498,-0.71],[0.521,-2.16],[0.538,-1.59],[0.559,-2.71],[0.581,-1.01],[0.603,-1.91],[0.619,-0.61],[0.628,-2.89],[0.642,-1.36],[0.701,-0.69],
[0.719,-1.61],[0.742,-2.59],[0.758,-1.16],[0.783,-1.99],[0.801,-0.81],[0.819,-2.86],[0.838,-1.46],[0.857,-0.66],[0.879,-1.89],[0.893,-2.41],
[0.899,-1.76],[0.909,-2.19],[0.918,-1.06],[0.928,-2.56],[0.941,-0.76],[0.951,-2.91],[0.963,-1.56],[0.971,-2.36],[0.981,-1.21],[0.989,-2.66],
[0.995,-1.86],[0.998,-2.26],[0.453,-0.56],[0.548,-0.51],[0.362,-2.21],[0.407,-1.56],[0.568,-0.86],[0.658,-0.56],[0.831,-0.51],[0.869,-2.64],
[0.893,-2.18],[0.902,-1.62],[0.887,-2.02],[0.961,-2.49],[0.998,-0.61],[0.994,-1.39],[0.733,-0.97],[0.775,-0.46]
];

// ---------- texts ----------
const panelLetters = ['a', 'b'];
const boxLabelA = 'Track 5a<br>PO<sub>4</sub>H<sup>+</sup>\u2192 PO<sub>2</sub><sup>+</sup>+O<sub>2</sub>H<sup>0</sup>';
const boxLabelB = '\u00a0Track 5b<br>P<sub>3</sub>O<sub>12</sub><sup>3+</sup>\u2192PO<sub>3</sub><sup>+</sup>+P<sub>2</sub>O<sub>7</sub><sup>+</sup>+O<sub>2</sub><sup>+</sup>(not detected)';
const xTitle = '\u0394V / V<sub>0</sub>';
const yTitle = 'distance from track (Da)';

// ---------- build ----------
const FONT = 'Arial, "Liberation Sans", Helvetica, sans-serif';
const W = 563, H = 755;
const px = v => v / W, py = v => 1 - v / H;

function pts(arr, xa, ya, size) {
  return {
    type: 'scatter', mode: 'markers',
    x: arr.map(p => p[0]), y: arr.map(p => p[1]),
    xaxis: xa, yaxis: ya, hoverinfo: 'skip',
    marker: {color: '#000', size: size, line: {width: 0}},
    showlegend: false
  };
}

const traces = [
  pts(aScatter, 'x', 'y', 2.3), pts(aBand, 'x', 'y', 3.8), pts(aBlob, 'x', 'y', 5),
  pts(bScatter, 'x2', 'y2', 2.3), pts(bBand, 'x2', 'y2', 3.8), pts(bBlob, 'x2', 'y2', 5)
];

const xDom = [px(100.3), px(543.4)];
function xAx(anchor) {
  return {
    domain: xDom, anchor: anchor, range: [0, 1],
    tickmode: 'array', tickvals: xTickVals, ticktext: xTickText,
    ticks: 'outside', ticklen: 17, tickwidth: 3, tickcolor: '#000',
    showline: true, mirror: true, linecolor: '#000', linewidth: 2,
    showgrid: false, zeroline: false, ticklabelstandoff: -3,
    tickfont: {family: FONT, size: 23, color: '#000'}, fixedrange: true
  };
}
function yAx(anchor, top, bottom) {
  return {
    domain: [py(bottom), py(top)], anchor: anchor, range: [-3, 3],
    tickmode: 'array', tickvals: yTickVals, ticktext: yTickText,
    ticks: 'outside', ticklen: 22, tickwidth: 3, tickcolor: '#000',
    showline: true, mirror: true, linecolor: '#000', linewidth: 2,
    showgrid: false, zeroline: false, ticklabelstandoff: 4,
    tickfont: {family: FONT, size: 23, color: '#000'}, fixedrange: true
  };
}

function ann(text, x, y, size, extra) {
  return Object.assign({
    text: text, xref: 'paper', yref: 'paper', x: x, y: y,
    showarrow: false, font: {family: FONT, size: size, color: '#000'},
    xanchor: 'center', yanchor: 'middle'
  }, extra || {});
}

const annotations = [
  ann(panelLetters[0], px(20), py(22), 27),
  ann(panelLetters[1], px(20), py(405), 27),
  ann(xTitle, px(322), py(352), 21),
  ann(xTitle, px(322), py(742), 21),
  ann(yTitle, px(24), py(137), 18, {textangle: -90}),
  ann(yTitle, px(24), py(516), 18, {textangle: -90}),
  ann(boxLabelA, px(123), py(66), 21, {xanchor: 'left', yanchor: 'top', align: 'left',
      bordercolor: '#000', borderwidth: 1, borderpad: 2, bgcolor: '#fff', width: 218, height: 54}),
  ann(boxLabelB, px(105), py(447), 22, {xanchor: 'left', yanchor: 'top', align: 'left',
      bordercolor: '#000', borderwidth: 1, borderpad: 2, bgcolor: '#fff', width: 424, height: 52})
];

const layout = {
  width: W, height: H,
  margin: {l: 0, r: 0, t: 0, b: 0, pad: 0},
  paper_bgcolor: '#fff', plot_bgcolor: '#fff',
  font: {family: FONT, color: '#000'},
  xaxis: xAx('y'), yaxis: yAx('x', 48, 279.3),
  xaxis2: xAx('y2'), yaxis2: yAx('x2', 436.5, 668.3),
  annotations: annotations,
  showlegend: false
};

Plotly.newPlot('chart', traces, layout, {displayModeBar: false, staticPlot: true});
</script>
</body>
</html>
